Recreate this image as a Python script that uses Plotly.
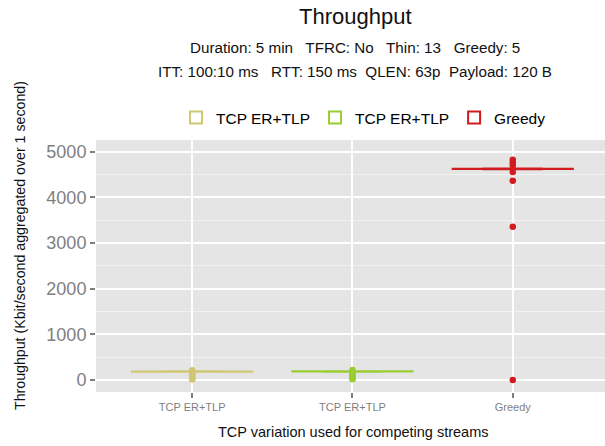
import plotly.graph_objects as go

# ---- data ----
categories = ["TCP ER+TLP", "TCP ER+TLP", "Greedy"]
positions = [0, 1, 2]
colors = ["#CFC774", "#9ACD32", "#D01C1F"]
q1 = [183, 186, 4622]
median = [185, 188, 4625]
q3 = [187, 190, 4628]
lower_fence = [180, 183, 4618]
upper_fence = [190, 193, 4632]
outliers = [
    [10, 30, 60, 100, 130, 150, 215],
    [15, 35, 70, 110, 140, 220],
    [0, 3355, 4364, 4555, 4700, 4760, 4825],
]

FONT = "Liberation Sans"
W, H = 605, 446
L, R, T, B = 96, 0, 140, 446 - 392
pw, ph = W - L - R, H - T - B
x_hi = -0.6 + pw / 160.3

fig = go.Figure()

for i, (pos, name, col) in enumerate(zip(positions, categories, colors)):
    fig.add_trace(go.Box(
        x=[pos], q1=[q1[i]], median=[median[i]], q3=[q3[i]],
        lowerfence=[lower_fence[i]], upperfence=[upper_fence[i]],
        name=name, width=0.75, line=dict(color=col, width=2),
        fillcolor="white", boxpoints=False, showlegend=True,
        legendgroup=f"g{i}",
    ))
    fig.add_trace(go.Scatter(
        x=[pos] * len(outliers[i]), y=outliers[i], mode="markers",
        marker=dict(color=col, size=6.5), showlegend=False,
        legendgroup=f"g{i}", hoverinfo="y",
    ))


def px_x(x):
    return (x - L) / pw


def px_y(y):
    return (H - B - y) / ph


fig.update_layout(
    width=W, height=H,
    margin=dict(l=L, r=R, t=T, b=B, autoexpand=False),
    paper_bgcolor="white", plot_bgcolor="#E5E5E5",
    font=dict(family=FONT, color="#000000"),
    legend=dict(orientation="h", x=px_x(176), xanchor="left", y=px_y(101), yanchor="top",
                font=dict(size=15.5, color="#000000"), bgcolor="rgba(0,0,0,0)",
                itemwidth=30, traceorder="normal"),
    showlegend=True,
    xaxis=dict(
        tickmode="array", tickvals=positions, ticktext=categories,
        range=[-0.6, x_hi], showgrid=True, gridcolor="white", gridwidth=2,
        zeroline=False, ticks="outside", ticklen=5, tickcolor="#7F7F7F", tickwidth=1.5,
        tickfont=dict(size=11, color="#7F7F7F"), showline=False,
    ),
    yaxis=dict(
        range=[-263, 5256], tick0=0, dtick=1000, showgrid=True, gridcolor="white",
        gridwidth=2, zeroline=False, ticks="outside", ticklen=5, tickcolor="#7F7F7F",
        tickwidth=1.5, tickfont=dict(size=18, color="#7F7F7F"), showline=False,
        minor=dict(dtick=500, tick0=0, showgrid=True, gridcolor="#F2F2F2", gridwidth=1, ticks=""),
    ),
)

ann_specs = [
    ("Throughput", 355, 16.5, 22, 0),
    ("Duration: 5 min   TFRC: No   Thin: 13   Greedy: 5", 355, 48, 15.2, 0),
    ("ITT: 100:10 ms   RTT: 150 ms  QLEN: 63p  Payload: 120 B", 355, 71, 15.2, 0),
    ("TCP variation used for competing streams", 353, 432, 14.5, 0),
    ("Throughput (Kbit/second aggregated over 1 second)", 20, 246, 14.2, -90),
]
for text, x, y, size, ang in ann_specs:
    fig.add_annotation(text=text, x=px_x(x), y=px_y(y), xref="paper", yref="paper",
                       xanchor="center", yanchor="middle", showarrow=False,
                       textangle=ang, font=dict(size=size, color="#111111"))

fig.write_html(
    "out.html",
    config={"displayModeBar": False},
    post_script="document.body.style.margin='0';document.body.style.overflow='hidden';",
)
